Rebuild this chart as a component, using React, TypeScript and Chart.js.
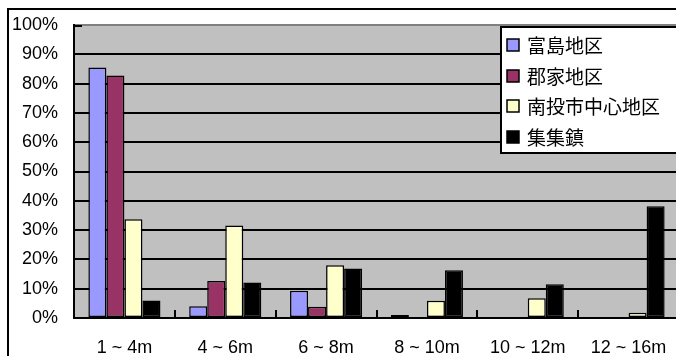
import React, { useEffect, useRef } from "react";
import { Chart, registerables } from "chart.js";

Chart.register(...registerables);

const categories = ["1 ~ 4m", "4 ~ 6m", "6 ~ 8m", "8 ~ 10m", "10 ~ 12m", "12 ~ 16m"];
const seriesNames = ["富島地区", "郡家地区", "南投市中心地区", "集集鎮"];
const fudao = [85.5, 4.0, 9.3, 1.0, 0, 0];
const junjia = [82.8, 12.6, 3.8, 0, 0, 0];
const nantou = [33.7, 31.6, 18.0, 5.9, 6.7, 1.8];
const jiji = [6.0, 12.1, 16.9, 16.3, 11.5, 38.1];
const colors = ["#9999FF", "#993366", "#FFFFCC", "#000000"];
const yTicks = [0, 10, 20, 30, 40, 50, 60, 70, 80, 90, 100];

const bgPlugin = {
  id: "bgPlugin",
  beforeDraw(chart: any) {
    const { ctx, chartArea: a, width, height } = chart;
    ctx.save();
    ctx.fillStyle = "#FFFFFF";
    ctx.fillRect(0, 0, width, height);
    ctx.fillStyle = "#C0C0C0";
    ctx.fillRect(a.left, a.top, a.right - a.left, a.bottom - a.top);
    ctx.restore();
  },
  afterDatasetsDraw(chart: any) {
    const { ctx, chartArea: a } = chart;
    ctx.save();
    ctx.strokeStyle = "#000";
    ctx.lineWidth = 2;
    const n = categories.length;
    const w = (a.right - a.left) / n;
    for (let i = 1; i < n; i++) {
      const x = Math.round(a.left + i * w);
      ctx.beginPath();
      ctx.moveTo(x, a.bottom);
      ctx.lineTo(x, a.bottom - 8);
      ctx.stroke();
    }
    ctx.beginPath();
    ctx.moveTo(a.left, a.top + 1);
    ctx.lineTo(a.left + 8, a.top + 1);
    ctx.stroke();
    ctx.restore();
  },
  afterDraw(chart: any) {
    const { ctx, width, height } = chart;
    ctx.save();
    ctx.strokeStyle = "#000";
    ctx.lineWidth = 2;
    ctx.strokeRect(1, 1, width - 2, height - 2);
    const lx = 494, ly = 19, lw = 200, lh = 126;
    ctx.fillStyle = "#FFFFFF";
    ctx.fillRect(lx, ly, lw, lh);
    ctx.strokeRect(lx, ly, lw, lh);
    const rows = [37, 68, 98, 129];
    ctx.font = '19px "Noto Sans CJK JP", "Noto Sans CJK TC", sans-serif';
    ctx.textBaseline = "middle";
    ctx.textAlign = "left";
    seriesNames.forEach((name, i) => {
      const cy = rows[i];
      ctx.fillStyle = colors[i];
      ctx.fillRect(500, cy - 6, 12, 12);
      ctx.lineWidth = 1.5;
      ctx.strokeStyle = "#000";
      ctx.strokeRect(500, cy - 6, 12, 12);
      ctx.fillStyle = "#000";
      ctx.fillText(name, 520, cy + 1);
    });
    ctx.restore();
  },
};

export default function App() {
  const ref = useRef<HTMLCanvasElement>(null);
  useEffect(() => {
    if (!ref.current) return;
    const data = [fudao, junjia, nantou, jiji];
    const chart = new Chart(ref.current, {
      type: "bar",
      data: {
        labels: categories,
        datasets: seriesNames.map((name, i) => ({
          label: name,
          data: data[i],
          backgroundColor: colors[i],
          borderColor: "#000",
          borderWidth: 1.5,
          borderSkipped: false,
          categoryPercentage: 0.715,
          barPercentage: 1,
        })),
      },
      options: {
        animation: false,
        responsive: false,
        devicePixelRatio: 1,
        layout: { padding: { left: 0, top: 17, right: 28, bottom: 20 } },
        plugins: { legend: { display: false }, tooltip: { enabled: false } },
        scales: {
          x: {
            grid: { display: false, drawTicks: false },
            border: { display: true, color: "#000", width: 2 },
            ticks: {
              color: "#000",
              padding: 19,
              maxRotation: 0,
              autoSkip: false,
              font: { family: '"Liberation Sans", Arial, sans-serif', size: 18 },
            },
            afterFit(scale: any) {
              scale.height = 50;
              scale.paddingLeft = 0;
              scale.paddingRight = 0;
            },
          },
          y: {
            min: 0,
            max: 100,
            afterBuildTicks(scale: any) {
              scale.ticks = yTicks.map((v) => ({ value: v }));
            },
            grid: {
              drawTicks: false,
              lineWidth: 2,
              color: (c: any) => (c.tick && c.tick.value === 100 ? "#808080" : "#000"),
            },
            border: { display: true, color: "#000", width: 2 },
            ticks: {
              color: "#000",
              padding: 16,
              callback: (v: any) => v + "%",
              font: { family: '"Liberation Sans", Arial, sans-serif', size: 18 },
            },
            afterFit(scale: any) {
              scale.width = 67;
              scale.paddingTop = 0;
              scale.paddingBottom = 0;
            },
          },
        },
      },
      plugins: [bgPlugin],
    });
    return () => chart.destroy();
  }, []);
  return (
    <div style={{ position: "fixed", left: 0, top: 0, width: 676, height: 356, overflow: "hidden" }}>
      <canvas
        ref={ref}
        width={700}
        height={380}
        style={{ position: "absolute", left: 7, top: 8, width: 700, height: 380, display: "block" }}
      />
    </div>
  );
}
